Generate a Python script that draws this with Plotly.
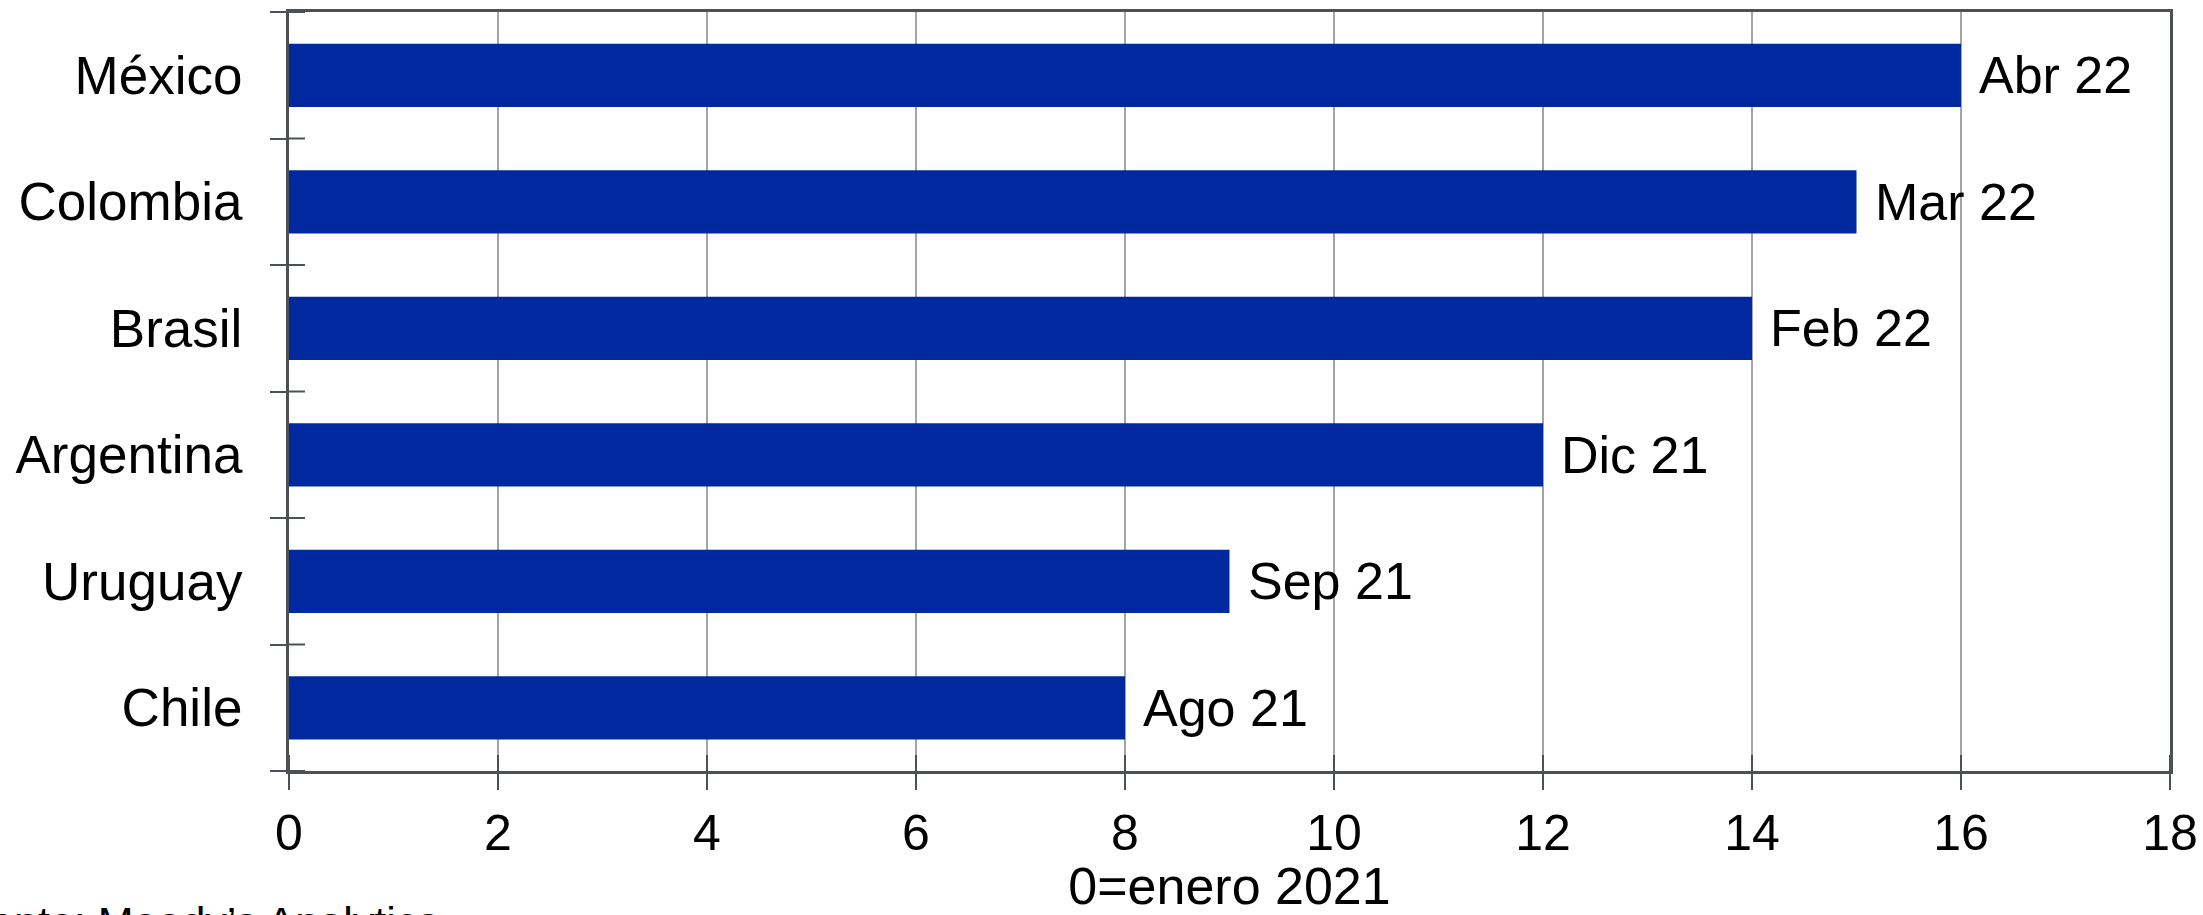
import plotly.graph_objects as go

countries = ["Chile", "Uruguay", "Argentina", "Brasil", "Colombia", "México"]
months = [8, 9, 12, 14, 15, 16]
labels = ["Ago 21", "Sep 21", "Dic 21", "Feb 22", "Mar 22", "Abr 22"]
x_ticks = [0, 2, 4, 6, 8, 10, 12, 14, 16, 18]
x_title = "0=enero 2021"
source = "Fuente: Moody’s Analytics"

FONT = "Liberation Sans, Arial, sans-serif"
BAR = "#0029A0"
AXIS = "#4d5054"
GRID = "#a2a5a8"

fig = go.Figure()
fig.add_trace(go.Bar(
    x=months, y=countries, orientation="h", width=0.5,
    marker=dict(color=BAR, line=dict(width=0)),
    hoverinfo="skip", showlegend=False,
))

for c, v, t in zip(countries, months, labels):
    fig.add_annotation(x=v, y=c, xref="x", yref="y", text=t, showarrow=False,
                       xanchor="left", yanchor="middle", xshift=16,
                       font=dict(family=FONT, size=52, color="#000"))

# inner halves of crossing tick marks
shapes = []
for t in x_ticks:
    shapes.append(dict(type="line", xref="x", yref="paper", x0=t, x1=t,
                       ysizemode="pixel", yanchor=0, y0=0, y1=16,
                       line=dict(color=AXIS, width=2)))
for i in range(len(countries) + 1):
    b = i - 0.5
    shapes.append(dict(type="line", xref="paper", yref="y", y0=b, y1=b,
                       xsizemode="pixel", xanchor=0, x0=0, x1=16,
                       line=dict(color=AXIS, width=2)))
fig.update_layout(shapes=shapes)

fig.add_annotation(xref="paper", yref="paper", x=0, y=0, xanchor="left", yanchor="top",
                   xshift=-351, yshift=-125, text=source, showarrow=False,
                   font=dict(family=FONT, size=43, color="#000"))

fig.update_layout(
    width=2203, height=915,
    margin=dict(l=289, r=33, t=12, b=144, autoexpand=False),
    paper_bgcolor="white", plot_bgcolor="white",
    font=dict(family=FONT, size=52, color="#000"),
    bargap=0.5,
    xaxis=dict(range=[0, 18], tickmode="array", tickvals=x_ticks,
               ticktext=[str(t) for t in x_ticks], automargin=False,
               showgrid=True, gridcolor=GRID, gridwidth=2,
               showline=True, linecolor=AXIS, linewidth=3, mirror=True,
               ticks="outside", ticklen=16, tickwidth=2, tickcolor=AXIS,
               tickfont=dict(size=50), zeroline=False,
               title=dict(text=x_title, font=dict(size=52), standoff=16)),
    yaxis=dict(type="category", categoryorder="array", categoryarray=countries,
               range=[-0.5, len(countries) - 0.5], automargin=False,
               tickson="boundaries", ticks="outside", ticklen=16, tickwidth=2,
               tickcolor=AXIS, showgrid=False, ticklabelstandoff=33,
               showline=True, linecolor=AXIS, linewidth=3, mirror=True,
               tickfont=dict(size=53), zeroline=False),
)

fig.write_html("out.html", config={"displayModeBar": False},
               post_script="document.body.style.margin='0';document.body.style.overflow='hidden';")
